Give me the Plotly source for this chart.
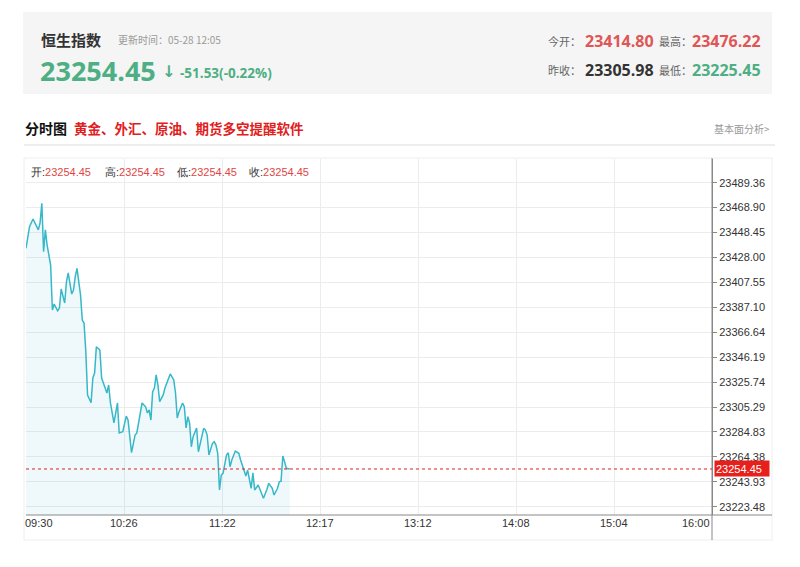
import plotly.graph_objects as go

# ---------------- data ----------------
times = ["09:30","09:32","09:34","09:37","09:38","09:39","09:40","09:41","09:42","09:44",
         "09:45","09:46","09:48","09:49","09:50","09:52","09:53","09:54","09:56","09:57",
         "09:58","09:59","10:01","10:02","10:03","10:04","10:05","10:07","10:08","10:09",
         "10:10","10:12","10:13","10:14","10:16","10:17","10:18","10:20","10:22","10:23",
         "10:25","10:27","10:28","10:30","10:32","10:33","10:35","10:36","10:38","10:39",
         "10:40","10:41","10:42","10:43","10:44","10:45","10:46","10:48","10:49","10:50",
         "10:52","10:54","10:55","10:56","10:57","10:59","11:00","11:01","11:02","11:03",
         "11:04","11:05","11:07","11:08","11:10","11:11","11:12","11:13","11:14","11:16",
         "11:17","11:18","11:19","11:20","11:21","11:22","11:24","11:25","11:26","11:27",
         "11:29","11:31","11:32","11:34","11:35","11:36","11:37","11:38","11:39","11:40",
         "11:42","11:43","11:45","11:47","11:48","11:50","11:51","11:53","11:54","11:55",
         "11:56","11:57","11:58","12:00"]
prices = [23435.5,23453.3,23459.6,23450.6,23456.3,23472.5,23432.8,23450.6,23438.2,23421.8,
          23384.9,23389.8,23384.3,23386.5,23402.1,23390.6,23408.1,23415.3,23398.0,23401.3,
          23412.2,23419.1,23397.2,23376.7,23374.2,23350.7,23315.1,23308.8,23329.1,23333.2,
          23354.8,23352.1,23329.1,23325.0,23316.8,23323.4,23308.6,23292.2,23308.6,23284.0,
          23285.0,23297.9,23294.6,23267.8,23282.3,23284.0,23300.4,23308.6,23305.5,23300.4,
          23302.9,23294.6,23317.9,23320.9,23331.6,23323.4,23309.7,23315.2,23320.9,23325.2,
          23332.4,23327.5,23316.8,23296.3,23301.5,23308.6,23305.5,23288.1,23297.4,23292.2,
          23272.7,23281.0,23288.1,23268.6,23282.3,23287.8,23286.4,23282.3,23265.9,23275.5,
          23276.8,23274.1,23267.3,23237.2,23249.5,23250.9,23265.9,23267.8,23256.3,23261.8,
          23269.2,23267.3,23261.8,23253.6,23248.7,23253.6,23246.8,23238.6,23251.2,23237.2,
          23241.3,23237.2,23230.4,23237.8,23242.7,23238.6,23233.1,23238.6,23244.0,23244.5,
          23265.1,23260.4,23255.0,23254.45]

y_ticks = [23489.36,23468.90,23448.45,23428.00,23407.55,23387.10,23366.64,23346.19,
           23325.74,23305.29,23284.83,23264.38,23243.93,23223.48]
x_tick_labels = ["09:30","10:26","11:22","12:17","13:12","14:08","15:04","16:00"]

index_name = "恒生指数"
update_time = "更新时间：05-28 12:05"
last_price = 23254.45
change = "-51.53(-0.22%)"
open_price = "23414.80"
high_price = "23476.22"
prev_close = "23305.98"
low_price = "23225.45"

# ---------------- helpers ----------------
def to_min(t):
    h, m = t.split(":")
    return (int(h) * 60 + int(m)) - (9 * 60 + 30)

x_vals = [to_min(t) for t in times]
session_len = 390
tick_pos = [i * session_len / 7 for i in range(8)]

W, H = 800, 567
L, R, T, B = 26, 88, 159, 52
PW, PH = W - L - R, H - T - B

def px(x):
    return (x - L) / PW

def py(y):
    return (H - B - y) / PH

GREEN = "#4daf83"
RED = "#e05555"
CJK = "Noto Sans CJK SC"
NUM = "Open Sans"

fig = go.Figure()
fig.add_trace(go.Scatter(
    x=x_vals, y=prices, mode="lines",
    line=dict(color="#36b8c8", width=1.5),
    fill="tozeroy", fillcolor="rgba(54,184,200,0.08)",
    hoverinfo="skip", showlegend=False))

shapes = []
# header grey box
shapes.append(dict(type="rect", xref="paper", yref="paper",
                   x0=px(23), x1=px(772), y0=py(94), y1=py(12),
                   fillcolor="#f5f5f5", line=dict(width=0), layer="below"))
# divider under section title
shapes.append(dict(type="line", xref="paper", yref="paper",
                   x0=px(24), x1=px(775), y0=py(145), y1=py(145),
                   line=dict(color="#dddddd", width=1)))
# chart border box
shapes.append(dict(type="rect", xref="paper", yref="paper",
                   x0=px(24), x1=px(772), y0=py(540), y1=py(158),
                   line=dict(color="#eeeeee", width=1)))
# y-axis line extended
shapes.append(dict(type="line", xref="paper", yref="paper",
                   x0=1, x1=1, y0=py(540), y1=py(158),
                   line=dict(color="#888888", width=1)))
# x-axis line extended to right border
shapes.append(dict(type="line", xref="paper", yref="paper",
                   x0=0, x1=px(772), y0=0, y1=0,
                   line=dict(color="#888888", width=1)))
# current price dotted line
shapes.append(dict(type="line", xref="x", yref="y",
                   x0=0, x1=session_len, y0=last_price, y1=last_price,
                   line=dict(color="#e02020", width=1, dash="dot")))

ann = []
def text(x, y, s, size, color, family=CJK, anchor="left", bold=False):
    if bold:
        s = "<b>" + s + "</b>"
    ann.append(dict(xref="paper", yref="paper", x=px(x), y=py(y), text=s,
                    showarrow=False, xanchor=anchor, yanchor="middle",
                    font=dict(size=size, color=color, family=family)))

# header
text(39, 39, index_name, 15, "#333333", bold=True)
text(116, 40, update_time, 10, "#999999")
text(38, 70, f"{last_price:.2f}", 27, GREEN, family=NUM, bold=True)
text(160, 72, "↓", 16, GREEN, family="DejaVu Sans", bold=True)
text(178, 73, change, 13.5, GREEN, family=NUM, bold=True)

text(546, 41, "今开：", 11, "#666666")
text(583, 41, open_price, 16, RED, family=NUM, bold=True)
text(657, 41, "最高：", 11, "#666666")
text(690, 41, high_price, 16, RED, family=NUM, bold=True)
text(546, 70, "昨收：", 11, "#666666")
text(583, 70, prev_close, 16, "#333333", family=NUM, bold=True)
text(657, 70, "最低：", 11, "#666666")
text(690, 70, low_price, 16, GREEN, family=NUM, bold=True)

# section header
text(23, 128, "分时图", 14, "#111111", bold=True)
text(72, 128, "黄金、外汇、原油、期货多空提醒软件", 13.5, "#e0201c", bold=True)
text(772, 128, "基本面分析>", 10, "#999999", anchor="right")

# OHLC line
ohlc = [("开", 29), ("高", 103), ("低", 175), ("收", 247)]
for lab, xx in ohlc:
    text(xx, 172, f"{lab}:<span style='color:#e04545'>{last_price:.2f}</span>",
         11, "#333333", family="Liberation Sans")

# x tick labels
for i, (pos, lab) in enumerate(zip(tick_pos, x_tick_labels)):
    anchor = "left" if i == 0 else ("right" if i == len(tick_pos) - 1 else "center")
    ann.append(dict(xref="x", yref="paper", x=pos, y=py(523), text=lab,
                    showarrow=False, xanchor=anchor, yanchor="middle",
                    xshift=-3 if i == 0 else 0,
                    font=dict(size=11, color="#333333", family="Liberation Sans")))

# current price tag
ann.append(dict(xref="paper", yref="y", x=px(714), y=last_price,
                text=f"{last_price:.2f}", showarrow=False, xanchor="left",
                yanchor="middle", bgcolor="#e8201c", width=52, height=13,
                borderpad=1, align="left",
                font=dict(size=11, color="#ffffff", family="Liberation Sans")))

fig.update_layout(
    width=W, height=H,
    margin=dict(l=L, r=R, t=T, b=B),
    paper_bgcolor="#ffffff", plot_bgcolor="#ffffff",
    shapes=shapes, annotations=ann,
    xaxis=dict(range=[0, session_len], tickvals=tick_pos, showticklabels=False,
               showgrid=True, gridcolor="#ececec", gridwidth=1,
               zeroline=False, showline=False, fixedrange=True),
    yaxis=dict(range=[23216.7, 23508.8], side="right", tickvals=y_ticks,
               ticktext=[f"{v:.2f}" for v in y_ticks],
               ticks="outside", ticklen=4, tickcolor="#888888",
               tickfont=dict(size=11, color="#333333", family="Liberation Sans"),
               showgrid=True, gridcolor="#ececec", gridwidth=1,
               zeroline=False, showline=True, linecolor="#888888", fixedrange=True),
)

fig.write_html("out.html", config={"displayModeBar": False},
               post_script="document.body.style.margin='0px';")
